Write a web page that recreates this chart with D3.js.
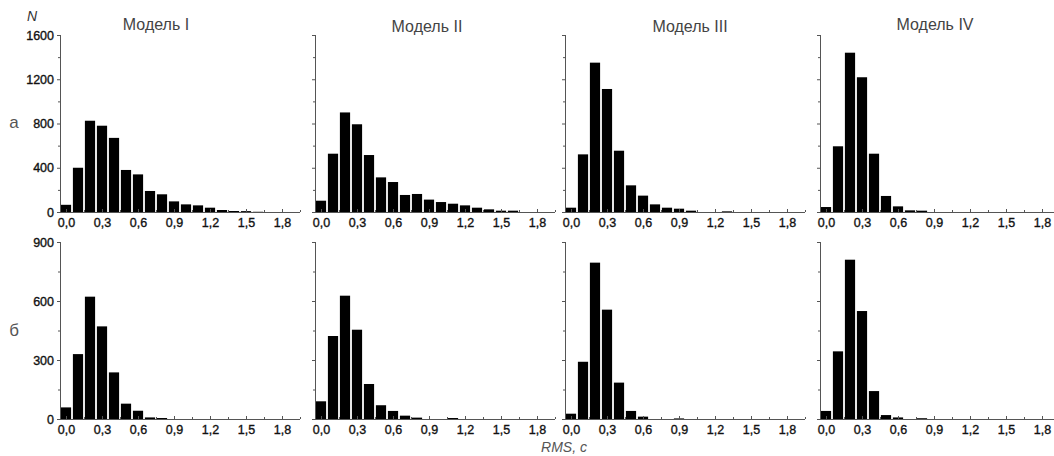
<!DOCTYPE html>
<html><head><meta charset="utf-8">
<script src="https://cdn.jsdelivr.net/npm/d3@7"></script>
<style>
html,body{margin:0;padding:0;background:#fff;}
svg{display:block;font-family:"Liberation Sans",Arial,sans-serif;}
</style></head>
<body>
<svg id="chart" width="1054" height="456"></svg>
<script>
const bins = [0.0,0.1,0.2,0.3,0.4,0.5,0.6,0.7,0.8,0.9,1.0,1.1,1.2,1.3,1.4,1.5,1.6,1.7,1.8];
const modelTitles = ["Модель I","Модель II","Модель III","Модель IV"];
const rowLabels = ["а","б"];
const xTickValues = [0.0,0.3,0.6,0.9,1.2,1.5,1.8];
const xMinorTicks = [0.15,0.45,0.75,1.05,1.35,1.65,1.95];
const yTicksTop = [0,400,800,1200,1600];
const yMinorTop = [200,600,1000,1400];
const yTicksBottom = [0,300,600,900];
const yMinorBottom = [150,450,750];

// row а
const a1 = [65,400,825,780,670,380,340,190,160,96,69,60,39,18,9,8,2,0,0];
const a2 = [102,527,900,793,515,313,271,154,163,112,90,75,60,39,24,12,12,0,0];
const a3 = [39,521,1350,1112,554,241,148,69,39,30,12,0,0,6,0,0,0,0,0];
const a4 = [45,594,1440,1218,527,145,51,15,12,0,0,0,0,0,0,0,0,0,0];
// row б
const b1 = [59,330,622,471,237,78,42,8,5,0,0,0,0,0,0,0,0,0,0];
const b2 = [90,422,627,454,178,70,41,17,7,0,0,5,0,0,0,0,0,0,0];
const b3 = [27,291,795,556,185,41,12,0,0,3,0,0,0,0,0,0,0,0,0];
const b4 = [41,344,810,549,142,20,8,0,4,0,0,0,0,0,0,0,0,0,0];

const rows = [
  {series:[a1,a2,a3,a4], max:1600, ticks:yTicksTop, minor:yMinorTop, top:35, bottom:212},
  {series:[b1,b2,b3,b4], max:900, ticks:yTicksBottom, minor:yMinorBottom, top:242, bottom:419}
];
const panelLefts = [60,315,565,820];
const titleCenters = [156,427,690,935];
const titleBaselines = [30,32,32,30];
const panelWidth = 240;
const axisColor = "#555";
const fmt = v => d3.format(".1f")(v).replace(".", ",");

const svg = d3.select("#chart");

function styleLabels(sel){
  sel.attr("font-size","12.5px").attr("fill","#111")
    .attr("stroke","#111").attr("stroke-width","0.35")
    .attr("font-family","'Liberation Sans',Arial,sans-serif");
}

rows.forEach((row, ri) => {
  const y = d3.scaleLinear().domain([0,row.max]).range([row.bottom,row.top]);
  row.series.forEach((vals, pi) => {
    const left = panelLefts[pi];
    const x = d3.scaleLinear().domain([-0.05,1.95]).range([left,left+panelWidth]);
    const g = svg.append("g");
    // bars
    g.selectAll("rect").data(bins.map((b,i)=>({b, v:vals[i]})).filter(d=>d.v>0))
      .enter().append("rect")
      .attr("x", d => x(d.b-0.05)+0.9)
      .attr("width", d => x(d.b+0.05)-x(d.b-0.05)-1.8)
      .attr("y", d => y(d.v))
      .attr("height", d => y(0)-y(d.v))
      .attr("fill","#000");
    // x axis
    const xa = g.append("g").attr("transform",`translate(0,${row.bottom})`)
      .call(d3.axisBottom(x).tickValues(xTickValues).tickSize(-3).tickPadding(6).tickFormat(fmt));
    xa.select(".domain").attr("d",`M${left},0.5H${left+panelWidth}`).attr("stroke",axisColor);
    xa.selectAll(".tick line").attr("stroke",axisColor);
    styleLabels(xa.selectAll(".tick text"));
    xa.selectAll(".minor").data(xMinorTicks).enter().append("line")
      .attr("class","minor").attr("x1",d=>x(d)+0.5).attr("x2",d=>x(d)+0.5)
      .attr("y1",0).attr("y2",-2).attr("stroke",axisColor);
    // y axis
    const ya = g.append("g").attr("transform",`translate(${left},0)`)
      .call(d3.axisLeft(y).tickValues(row.ticks).tickSize(3).tickPadding(3)
        .tickFormat(pi===0 ? d3.format("d") : ""));
    ya.select(".domain").attr("d",`M0.5,${row.bottom}V${row.top}`).attr("stroke",axisColor);
    ya.selectAll(".tick line").attr("stroke",axisColor);
    styleLabels(ya.selectAll(".tick text"));
    ya.selectAll(".minor").data(row.minor).enter().append("line")
      .attr("class","minor").attr("y1",d=>y(d)+0.5).attr("y2",d=>y(d)+0.5)
      .attr("x1",0).attr("x2",-2).attr("stroke",axisColor);
    // titles
    if (ri===0) {
      svg.append("text").attr("x", titleCenters[pi]).attr("y", titleBaselines[pi])
        .attr("text-anchor","middle").attr("font-size","16px").attr("fill","#444")
        .text(modelTitles[pi]);
    }
  });
  svg.append("text").attr("x",14).attr("y", ri===0 ? 128 : 336)
    .attr("text-anchor","middle").attr("font-size","17px").attr("fill","#555")
    .text(rowLabels[ri]);
});

svg.append("text").attr("x",32).attr("y",21).attr("text-anchor","middle")
  .attr("font-size","14px").attr("font-style","italic").attr("fill","#333").text("N");
svg.append("text").attr("x",564).attr("y",452).attr("text-anchor","middle")
  .attr("font-size","14px").attr("font-style","italic").attr("fill","#555").text("RMS, с");
</script>
</body></html>
